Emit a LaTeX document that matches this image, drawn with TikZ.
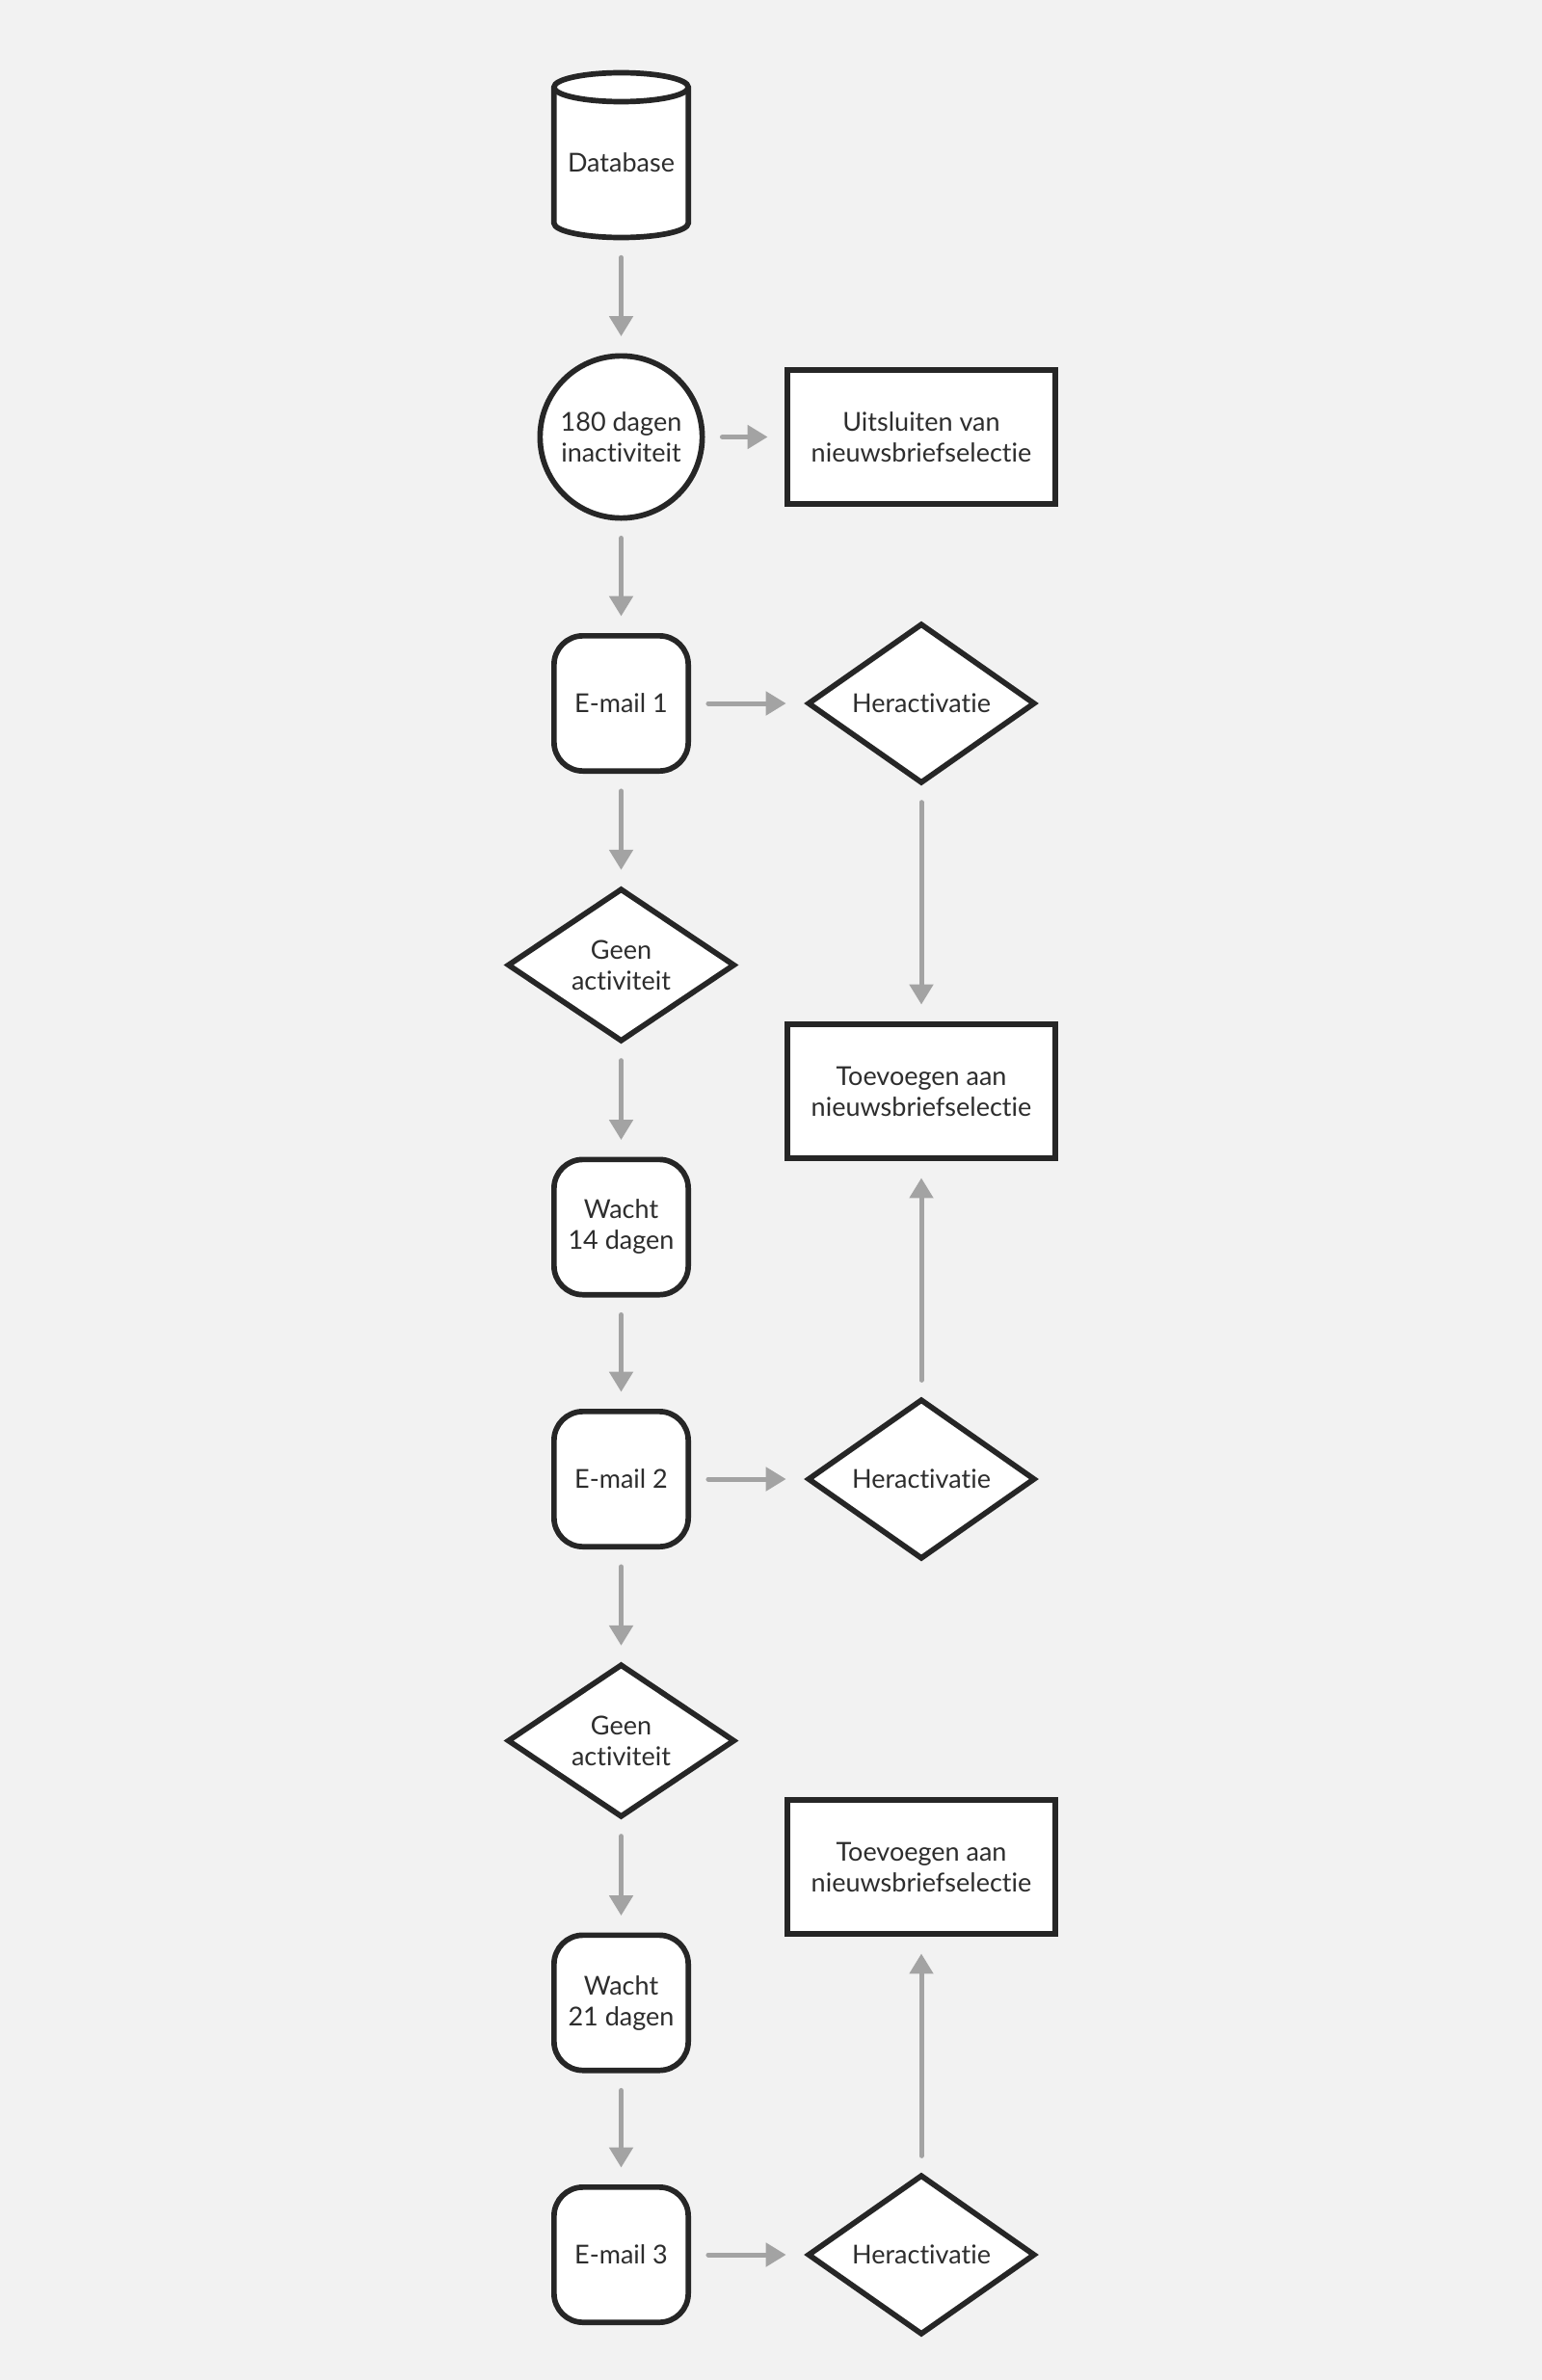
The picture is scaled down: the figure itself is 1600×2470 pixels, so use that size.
\documentclass[tikz,border=0pt]{standalone}
\usepackage{fontspec}
\setmainfont{Lato}[Ligatures={NoCommon}]
\usetikzlibrary{arrows.meta,shapes.geometric}
\definecolor{bgc}{HTML}{F2F2F2}
\definecolor{ink}{HTML}{262626}
\definecolor{txt}{HTML}{2D2D2D}
\definecolor{flowc}{HTML}{A3A3A3}
\begin{document}
\begin{tikzpicture}[x=1pt,y=-1pt,
  every node/.style={font=\fontsize{27}{32}\selectfont, text=txt, align=center, inner sep=0pt, outer sep=0pt},
  shp/.style={draw=ink, line width=5.7pt, fill=white},
  rbox/.style={shp, rectangle, rounded corners=30pt, minimum width=139.3pt, minimum height=140.3pt},
  sbox/.style={shp, rectangle, minimum width=278.3pt, minimum height=139.3pt},
  dia/.style={shp, diamond, minimum width=233.7pt, minimum height=156.7pt},
  circ/.style={shp, circle, minimum size=168.3pt},
  flow/.style={draw=flowc, line width=5pt, line cap=round, -{Triangle[width=24pt,length=21pt]}, shorten <=20.8pt, shorten >=20.3pt},
  flowh/.style={flow, shorten >=23.5pt}
]
\fill[bgc] (0,0) rectangle (1600,2470);
\useasboundingbox (0,0) rectangle (1600,2470);

% Database cylinder
\filldraw[draw=ink, line width=5.7pt, fill=white]
  (574.8,90.5) -- (574.8,231.5)
  arc[start angle=180, end angle=360, x radius=69.7pt, y radius=15pt]
  -- (714.2,90.5)
  arc[start angle=0, end angle=180, x radius=69.7pt, y radius=15pt]
  -- cycle;
\draw[draw=ink, line width=5.7pt]
  (574.8,90.5) arc[start angle=180, end angle=360, x radius=69.7pt, y radius=15pt];
\node (db) at (644.5,168.5) {Database};
\coordinate (dbb) at (644.5,246.5);

\node[circ] (c180) at (644.5,453.5) {180 dagen\\inactiviteit};
\node[sbox] (uits) at (956,453.5) {Uitsluiten van\\nieuwsbriefselectie};
\node[rbox] (e1) at (644.5,730) {E-mail 1};
\node[dia] (h1) at (956,730) {Heractivatie};
\node[dia] (g1) at (644.5,1001.5) {Geen\\activiteit};
\node[sbox] (t1) at (956,1132.5) {Toevoegen aan\\nieuwsbriefselectie};
\node[rbox] (w14) at (644.5,1273.5) {Wacht\\14 dagen};
\node[rbox] (e2) at (644.5,1535) {E-mail 2};
\node[dia] (h2) at (956,1535) {Heractivatie};
\node[dia] (g2) at (644.5,1806.5) {Geen\\activiteit};
\node[sbox] (t2) at (956,1937.5) {Toevoegen aan\\nieuwsbriefselectie};
\node[rbox] (w21) at (644.5,2078.5) {Wacht\\21 dagen};
\node[rbox] (e3) at (644.5,2340) {E-mail 3};
\node[dia] (h3) at (956,2340) {Heractivatie};

\draw[flow] (dbb) -- (c180.north);
\draw[flow] (c180.east) -- (uits.west);
\draw[flow] (c180.south) -- (e1.north);
\draw[flowh] (e1.east) -- (h1.west);
\draw[flow] (e1.south) -- (g1.north);
\draw[flow] (h1.south) -- (t1.north);
\draw[flow] (g1.south) -- (w14.north);
\draw[flow] (w14.south) -- (e2.north);
\draw[flowh] (e2.east) -- (h2.west);
\draw[flow] (h2.north) -- (t1.south);
\draw[flow] (e2.south) -- (g2.north);
\draw[flow] (g2.south) -- (w21.north);
\draw[flow] (w21.south) -- (e3.north);
\draw[flowh] (e3.east) -- (h3.west);
\draw[flow] (h3.north) -- (t2.south);
\end{tikzpicture}
\end{document}
